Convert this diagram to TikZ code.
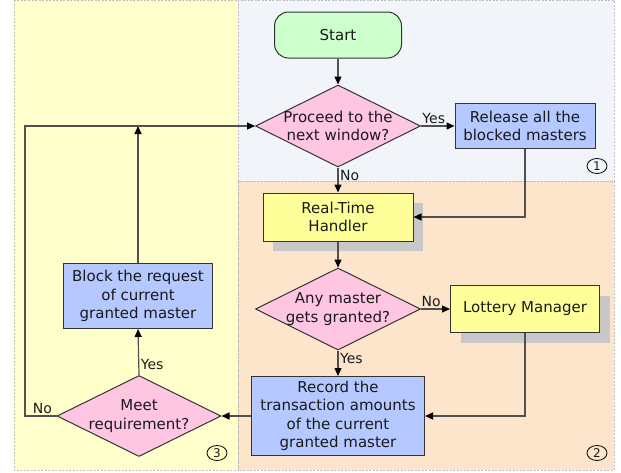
\documentclass[tikz,border=0pt]{standalone}
\usepackage{fontspec}
\setmainfont{DejaVu Sans}
\usetikzlibrary{shapes.geometric,shadows,arrows.meta}
\definecolor{bgyel}{HTML}{FFFFCC}
\definecolor{bgblue}{HTML}{F1F5FA}
\definecolor{bgor}{HTML}{FDE5CC}
\definecolor{startg}{HTML}{CCFFCC}
\definecolor{diapink}{HTML}{FFC6E2}
\definecolor{boxblue}{HTML}{B5C8FF}
\definecolor{boxyel}{HTML}{FFFF99}
\definecolor{shadowg}{HTML}{C8C8C8}
\definecolor{linec}{HTML}{333333}
\definecolor{connc}{HTML}{505050}
\definecolor{txtc}{HTML}{1A1A1A}
\definecolor{regc}{HTML}{BDBDBD}
\tikzset{
  region/.style={draw=regc, dashed, dash pattern=on 2pt off 1.5pt, line width=0.7pt},
  base/.style={draw=linec, line width=1pt, text=txtc, align=center, inner sep=2pt,
    font=\fontsize{15}{18.5}\selectfont},
  startbox/.style={base, fill=startg, rounded corners=14pt, minimum width=127pt, minimum height=46pt},
  dia/.style={diamond, draw=linec, line width=1pt, fill=diapink, inner sep=0pt},
  diatext/.style={text=txtc, align=center, inner sep=0pt, font=\fontsize{15}{18.5}\selectfont},
  bluebox/.style={base, fill=boxblue},
  yelbox/.style={base, fill=boxyel,
    drop shadow={shadow xshift=10pt, shadow yshift=-10pt, fill=shadowg, opacity=1}},
  conn/.style={draw=connc, line width=1.2pt, -{Triangle[length=8pt,width=7pt,color=black]}},
  lab/.style={text=txtc, font=\fontsize{14}{16}\selectfont, inner sep=1.5pt},
  num/.style={ellipse, draw=black, line width=0.8pt, minimum width=20pt, minimum height=15pt,
    inner sep=0pt, font=\fontsize{12}{12}\selectfont, text=txtc}
}
\begin{document}
\begin{tikzpicture}[x=1pt,y=-1pt]
\useasboundingbox (0,0) rectangle (621,472);
% regions
\fill[bgyel] (14,0) rectangle (238,470);
\fill[bgblue] (238,0) rectangle (614,181);
\fill[bgor] (238,181) rectangle (614,470);
\draw[region] (14,0) rectangle (238,470);
\draw[region] (238,0) rectangle (614,181);
\draw[region] (238,181) rectangle (614,470);
% nodes
\node[startbox] (start) at (338,35) {Start};
\node[dia, minimum width=165pt, minimum height=82pt] (d1) at (338,126) {};
\node[diatext] (d1t) at (338,126) {Proceed to the\\next window?};
\node[bluebox, minimum width=140pt, minimum height=45pt] (rel) at (525,126) {Release all the\\blocked masters};
\node[yelbox, minimum width=150pt, minimum height=48pt] (rth) at (338,217) {Real-Time\\Handler};
\node[dia, minimum width=165pt, minimum height=82pt] (d2) at (338,309) {};
\node[diatext] (d2t) at (338,309) {Any master\\gets granted?};
\node[yelbox, minimum width=149pt, minimum height=47pt] (lot) at (525,309) {Lottery Manager};
\node[bluebox, minimum width=173pt, minimum height=79pt] (rec) at (338,416) {Record the\\transaction amounts\\of the current\\granted master};
\node[bluebox, minimum width=149pt, minimum height=65pt] (blk) at (138,296) {Block the request\\of current\\granted master};
\node[dia, minimum width=164pt, minimum height=81pt] (d3) at (139,416) {};
\node[diatext] (d3t) at (139,416) {Meet\\requirement?};
\node[num] (n1) at (597,166) {1};
\node[num] (n2) at (597,453) {2};
\node[num] (n3) at (217,453) {3};
% connectors
\coordinate (c1) at (25,416);
\coordinate (j) at (blk.north |- d1.west);
\draw[conn] (start) -- (d1);
\draw[conn] (d1.east) -- node[lab, above, pos=0.38] {Yes} (rel.west);
\draw[conn] (d1.south) -- node[lab, right, pos=0.3] {No} (rth.north);
\draw[conn] (rel.south) |- (rth.east);
\draw[conn] (rth.south) -- (d2.north);
\draw[conn] (d2.east) -- node[lab, above, pos=0.35] {No} (lot.west);
\draw[conn] (d2.south) -- node[lab, right, pos=0.3] {Yes} (rec.north);
\draw[conn] (lot.south) |- (rec.east);
\draw[conn] (rec.west) -- (d3.east);
\draw[conn] (d3.north) -- node[lab, right, pos=0.22] {Yes} (blk.south);
\draw[conn] (blk.north) -- (j);
\draw[conn] (d3.west) -- node[lab, above, pos=0.45] {No} (c1) |- (d1.west);
\end{tikzpicture}
\end{document}
